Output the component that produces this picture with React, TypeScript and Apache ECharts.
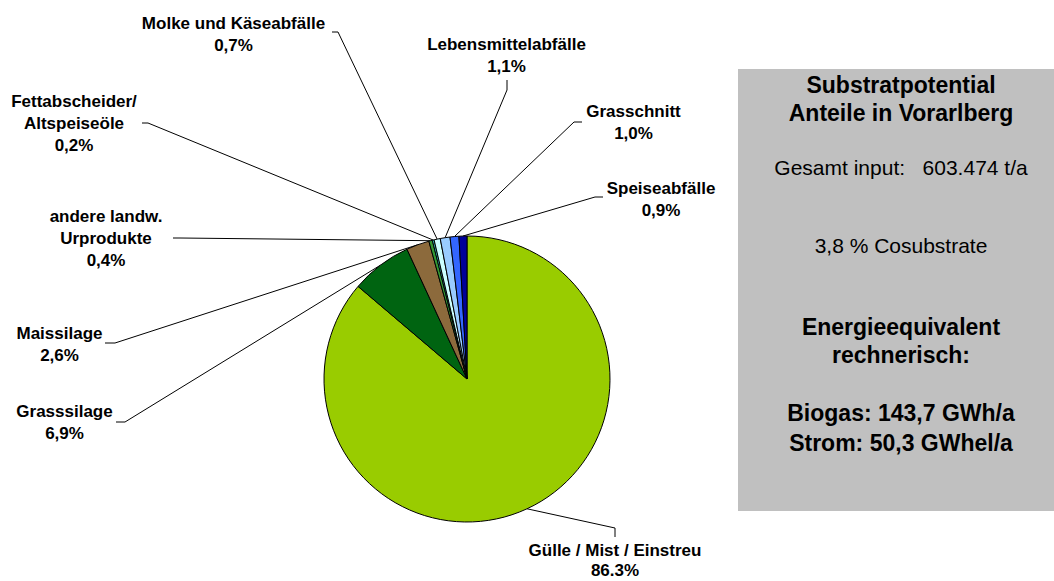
import React, { useEffect, useRef } from 'react';
import * as echarts from 'echarts';

const categories = [
  'Gülle / Mist / Einstreu',
  'Grasssilage',
  'Maissilage',
  'andere landw.\nUrprodukte',
  'Fettabscheider/\nAltspeiseöle',
  'Molke und Käseabfälle',
  'Lebensmittelabfälle',
  'Grasschnitt',
  'Speiseabfälle',
];
const shares = [86.3, 6.9, 2.6, 0.4, 0.2, 0.7, 1.1, 1.0, 0.9];
const shareLabels = ['86.3%', '6,9%', '2,6%', '0,4%', '0,2%', '0,7%', '1,1%', '1,0%', '0,9%'];
const sliceColors = ['#99CC00', '#006411', '#8C6A3C', '#339933', '#33CCCC', '#CCFFFF', '#99CCFF', '#3366FF', '#000099'];

const boxTitle = ['Substratpotential', 'Anteile in Vorarlberg'];
const boxInput = 'Gesamt input:   603.474 t/a';
const boxCosub = '3,8 % Cosubstrate';
const boxEnergyTitle = ['Energieequivalent', 'rechnerisch:'];
const boxEnergy = ['Biogas: 143,7 GWh/a', 'Strom: 50,3 GWhel/a'];

const FONT = '"Liberation Sans", Arial, sans-serif';
const CX = 467;
const CY = 379;
const R = 143;

// label placement: text centre x, text top y, leader elbow and end points
const labelPlacement = [
  { x: 615, y: 540, lh: 20, elbow: [615, 528], end: [615, 537] },
  { x: 64.5, y: 400, lh: 22, elbow: [125, 422], end: [116, 422] },
  { x: 59.5, y: 322, lh: 22, elbow: [115, 343], end: [105, 343] },
  { x: 106, y: 205, lh: 22, elbow: [180, 238], end: [173, 238] },
  { x: 74, y: 90, lh: 22, elbow: [148, 123], end: [142, 123] },
  { x: 233.5, y: 12, lh: 22, elbow: [338, 32], end: [332, 32] },
  { x: 506.5, y: 33, lh: 22, elbow: [507, 90], end: [507, 80] },
  { x: 633.5, y: 100, lh: 22, elbow: [574, 122], end: [582, 122] },
  { x: 661, y: 177, lh: 22, elbow: [595, 197], end: [603, 197] },
];

function fallbackAnchor(i: number): number[] {
  const total = shares.reduce((a, b) => a + b, 0);
  let before = 0;
  for (let k = 0; k < i; k++) before += shares[k];
  const mid = ((before + shares[i] / 2) / total) * Math.PI * 2;
  return [CX + R * Math.sin(mid), CY - R * Math.cos(mid)];
}

export default function App() {
  const ref = useRef<HTMLDivElement>(null);
  useEffect(() => {
    document.body.style.margin = '0';
    if (!ref.current) return;
    const chart = echarts.init(ref.current, undefined, { renderer: 'svg' });
    const boxCx = 901;
    const textEl = (t: string, y: number, bold: boolean, size: number) => ({
      type: 'text',
      x: boxCx,
      y,
      style: {
        text: t,
        fill: '#000',
        font: `${bold ? 'bold ' : ''}${size}px ${FONT}`,
        textAlign: 'center',
        textVerticalAlign: 'middle',
      },
    });
    chart.setOption({
      animation: false,
      color: sliceColors,
      graphic: [
        {
          type: 'rect',
          shape: { x: 738, y: 69, width: 330, height: 442 },
          style: { fill: '#C0C0C0' },
          z: -1,
        },
        textEl(boxTitle[0], 85, true, 23),
        textEl(boxTitle[1], 113, true, 23),
        textEl(boxInput, 167, false, 21),
        textEl(boxCosub, 245, false, 21),
        textEl(boxEnergyTitle[0], 327, true, 23),
        textEl(boxEnergyTitle[1], 355, true, 23),
        textEl(boxEnergy[0], 413, true, 23),
        textEl(boxEnergy[1], 443, true, 23),
      ],
      series: [
        {
          type: 'pie',
          center: [CX, CY],
          radius: R,
          startAngle: 90,
          clockwise: true,
          avoidLabelOverlap: false,
          minShowLabelAngle: 0,
          itemStyle: { borderColor: '#000', borderWidth: 1 },
          emphasis: { disabled: true },
          label: {
            show: true,
            position: 'outside',
            formatter: (p: any) => `${p.name}\n${shareLabels[p.dataIndex]}`,
            fontFamily: FONT,
            fontWeight: 'bold',
            fontSize: 17,
            lineHeight: 22,
            color: '#000',
            align: 'center',
          },
          labelLine: { show: true, length: 10, length2: 10, lineStyle: { color: '#000', width: 1 } },
          labelLayout: (params: any) => {
            const i = params.dataIndex;
            const lp = labelPlacement[i];
            const anchor =
              params.labelLinePoints && params.labelLinePoints[0]
                ? params.labelLinePoints[0]
                : fallbackAnchor(i);
            return {
              x: lp.x,
              y: lp.y,
              align: 'center',
              verticalAlign: 'top',
              labelLinePoints: [anchor, lp.elbow, lp.end],
            };
          },
          data: categories.map((c, i) => ({
            name: c,
            value: shares[i],
            label: { lineHeight: labelPlacement[i].lh },
          })),
        },
      ],
    });
    return () => chart.dispose();
  }, []);
  return <div ref={ref} style={{ width: 1054, height: 581 }} />;
}
